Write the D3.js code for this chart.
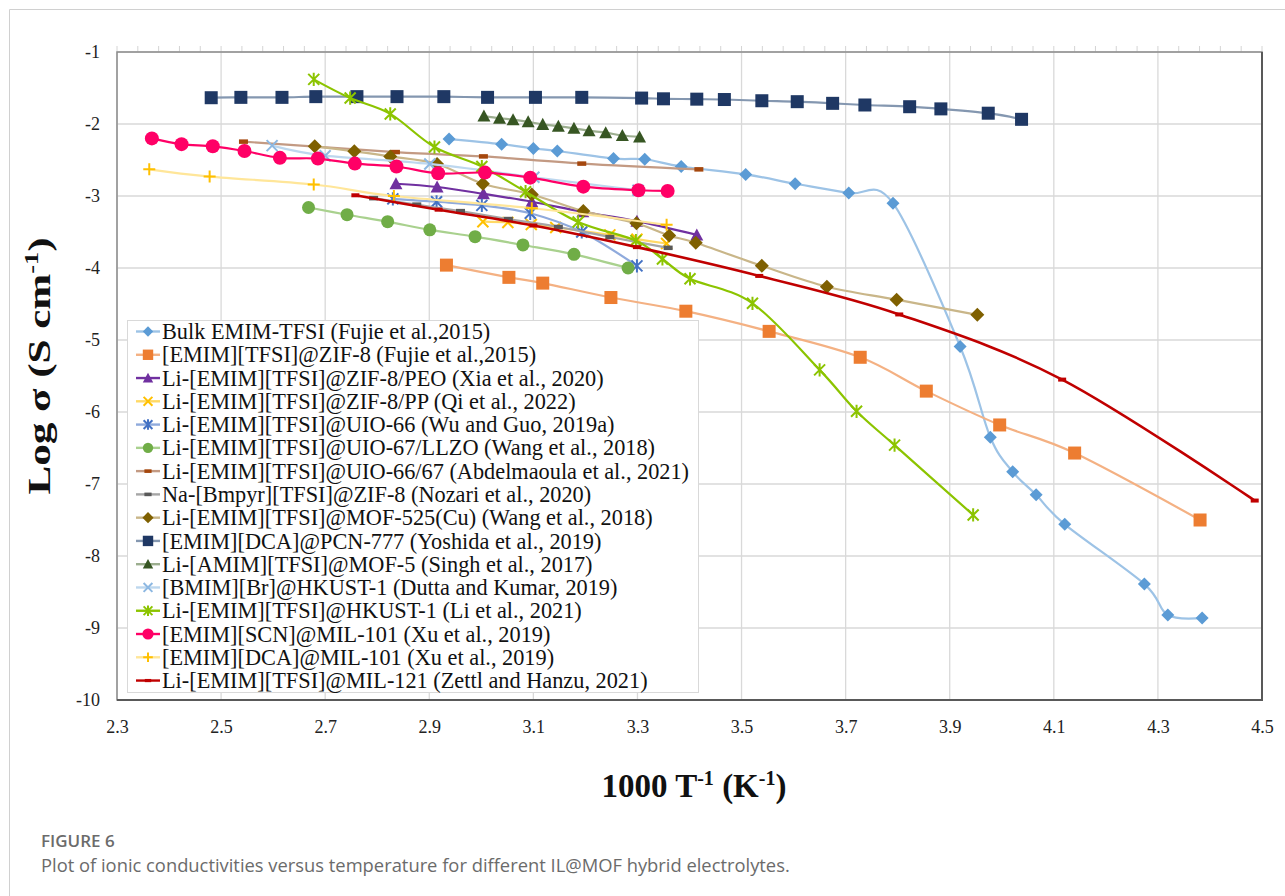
<!DOCTYPE html>
<html><head><meta charset="utf-8">
<script src="https://cdn.jsdelivr.net/npm/d3@7/dist/d3.min.js"></script>
<style>
html,body{margin:0;padding:0;background:#fff;}
svg{display:block;}
</style></head>
<body>
<script>
// ---------------- DATA ----------------
const xTicks = [2.3,2.5,2.7,2.9,3.1,3.3,3.5,3.7,3.9,4.1,4.3,4.5];
const yTicks = [-1,-2,-3,-4,-5,-6,-7,-8,-9,-10];

const seriesNames = [
  "Bulk EMIM-TFSI (Fujie et al.,2015)",
  "[EMIM][TFSI]@ZIF-8 (Fujie et al.,2015)",
  "Li-[EMIM][TFSI]@ZIF-8/PEO (Xia et al., 2020)",
  "Li-[EMIM][TFSI]@ZIF-8/PP (Qi et al., 2022)",
  "Li-[EMIM][TFSI]@UIO-66 (Wu and Guo, 2019a)",
  "Li-[EMIM][TFSI]@UIO-67/LLZO (Wang et al., 2018)",
  "Li-[EMIM][TFSI]@UIO-66/67 (Abdelmaoula et al., 2021)",
  "Na-[Bmpyr][TFSI]@ZIF-8 (Nozari et al., 2020)",
  "Li-[EMIM][TFSI]@MOF-525(Cu) (Wang et al., 2018)",
  "[EMIM][DCA]@PCN-777 (Yoshida et al., 2019)",
  "Li-[AMIM][TFSI]@MOF-5 (Singh et al., 2017)",
  "[BMIM][Br]@HKUST-1 (Dutta and Kumar, 2019)",
  "Li-[EMIM][TFSI]@HKUST-1 (Li et al., 2021)",
  "[EMIM][SCN]@MIL-101 (Xu et al., 2019)",
  "[EMIM][DCA]@MIL-101 (Xu et al., 2019)",
  "Li-[EMIM][TFSI]@MIL-121 (Zettl and Hanzu, 2021)"
];

const bulkEMIM = [[2.938,-2.21],[3.039,-2.28],[3.100,-2.34],[3.146,-2.375],[3.254,-2.48],[3.314,-2.49],[3.384,-2.59],[3.508,-2.70],[3.603,-2.83],[3.706,-2.96],[3.791,-3.10],[3.920,-5.09],[3.978,-6.35],[4.021,-6.83],[4.066,-7.15],[4.121,-7.56],[4.274,-8.39],[4.319,-8.82],[4.385,-8.86]];
const zif8 = [[2.933,-3.96],[3.053,-4.13],[3.118,-4.21],[3.249,-4.41],[3.393,-4.60],[3.553,-4.88],[3.728,-5.24],[3.855,-5.71],[3.996,-6.18],[4.140,-6.57],[4.381,-7.50]];
const zif8PEO = [[2.836,-2.83],[2.915,-2.875],[3.004,-2.97],[3.097,-3.08],[3.195,-3.22],[3.299,-3.35],[3.414,-3.54]];
const zif8PP = [[3.003,-3.357],[3.051,-3.368],[3.096,-3.396],[3.143,-3.437],[3.247,-3.54],[3.299,-3.60],[3.356,-3.66]];
const uio66 = [[2.830,-3.04],[2.914,-3.08],[3.001,-3.13],[3.094,-3.24],[3.193,-3.50],[3.299,-3.97]];
const uio67LLZO = [[2.668,-3.16],[2.742,-3.26],[2.820,-3.357],[2.901,-3.47],[2.988,-3.565],[3.080,-3.68],[3.178,-3.81],[3.282,-4.00]];
const uio6667 = [[2.543,-2.245],[2.835,-2.39],[3.004,-2.45],[3.193,-2.55],[3.418,-2.63]];
const naZIF8 = [[2.793,-3.03],[2.876,-3.12],[2.960,-3.21],[3.052,-3.32],[3.148,-3.43],[3.247,-3.57],[3.359,-3.72]];
const mof525 = [[2.680,-2.31],[2.756,-2.38],[2.825,-2.45],[2.915,-2.555],[3.003,-2.83],[3.097,-2.98],[3.196,-3.21],[3.298,-3.38],[3.361,-3.55],[3.412,-3.65],[3.539,-3.97],[3.664,-4.26],[3.798,-4.44],[3.953,-4.65]];
const pcn777 = [[2.481,-1.635],[2.538,-1.63],[2.617,-1.63],[2.682,-1.62],[2.761,-1.62],[2.838,-1.62],[2.928,-1.62],[3.012,-1.63],[3.104,-1.63],[3.193,-1.63],[3.308,-1.64],[3.350,-1.65],[3.414,-1.655],[3.467,-1.66],[3.539,-1.677],[3.607,-1.69],[3.675,-1.713],[3.737,-1.736],[3.823,-1.76],[3.883,-1.79],[3.974,-1.85],[4.038,-1.935]];
const mof5 = [[3.005,-1.89],[3.035,-1.92],[3.061,-1.94],[3.090,-1.97],[3.118,-2.005],[3.148,-2.03],[3.178,-2.06],[3.207,-2.093],[3.239,-2.12],[3.271,-2.16],[3.304,-2.18]];
const hkustBr = [[2.598,-2.30],[2.700,-2.44],[2.901,-2.555],[3.101,-2.74],[3.301,-2.92]];
const hkustLi = [[2.678,-1.38],[2.748,-1.64],[2.825,-1.86],[2.910,-2.32],[3.001,-2.59],[3.085,-2.94],[3.186,-3.36],[3.297,-3.62],[3.348,-3.875],[3.401,-4.15],[3.521,-4.49],[3.650,-5.415],[3.721,-5.99],[3.794,-6.46],[3.945,-7.43]];
const mil101SCN = [[2.367,-2.20],[2.424,-2.28],[2.484,-2.31],[2.545,-2.375],[2.613,-2.47],[2.686,-2.48],[2.757,-2.55],[2.837,-2.59],[2.917,-2.685],[3.007,-2.675],[3.094,-2.745],[3.196,-2.87],[3.302,-2.92],[3.358,-2.93]];
const mil101DCA = [[2.362,-2.63],[2.478,-2.73],[2.678,-2.84],[2.832,-3.00],[3.097,-3.17],[3.356,-3.40]];
const mil121 = [[2.758,-2.99],[2.918,-3.19],[3.100,-3.41],[3.299,-3.71],[3.534,-4.11],[3.803,-4.645],[4.116,-5.55],[4.486,-7.23]];

const seriesValues = [bulkEMIM, zif8, zif8PEO, zif8PP, uio66, uio67LLZO, uio6667, naZIF8, mof525, pcn777, mof5, hkustBr, hkustLi, mil101SCN, mil101DCA, mil121];

// ---------------- STYLE ----------------
const styles = [
  {marker:"diamond", mc:"#5B9BD5", lc:"#9DC3E6", s:6.5},
  {marker:"square",  mc:"#ED7D31", lc:"#F4B183", s:6.5},
  {marker:"triangle",mc:"#7030A0", lc:"#7030A0", s:6.5},
  {marker:"x",       mc:"#FFC000", lc:"#FFD966", s:5.5},
  {marker:"asterisk",mc:"#4472C4", lc:"#8FAADC", s:5.5},
  {marker:"circle",  mc:"#70AD47", lc:"#A9D18E", s:6.5},
  {marker:"dash",    mc:"#A5470D", lc:"#C39A83", s:4.5},
  {marker:"dash",    mc:"#595959", lc:"#A6A6A6", s:4.5},
  {marker:"diamond", mc:"#7F6000", lc:"#C9B689", s:7},
  {marker:"square",  mc:"#1F3864", lc:"#8497B0", s:6.5},
  {marker:"triangle",mc:"#375623", lc:"#9CAE8F", s:6.5},
  {marker:"x",       mc:"#8DB8E2", lc:"#BDD7EE", s:5.5},
  {marker:"asterisk",mc:"#8CC400", lc:"#8CC400", s:5.5},
  {marker:"circle",  mc:"#FF0066", lc:"#FF0066", s:7},
  {marker:"plus",    mc:"#FFC000", lc:"#FFE699", s:6},
  {marker:"dash",    mc:"#C00000", lc:"#C00000", s:4}
];

const W = 1285, H = 896;
const SERIF = "Liberation Serif";
const svg = d3.select("body").append("svg").attr("width", W).attr("height", H)
  .attr("font-family", SERIF);

// outer figure frame
svg.append("path").attr("d", `M9.5,${H} L9.5,9.5 L${W},9.5`).attr("fill","none").attr("stroke","#d0d0d0").attr("stroke-width",1);

const x = d3.scaleLinear().domain([2.3, 4.5]).range([117, 1262]);
const y = d3.scaleLinear().domain([-10, -1]).range([700, 52]);

// gridlines
const g = svg.append("g");
g.selectAll("line.vg").data(xTicks).join("line")
  .attr("x1", d => x(d)).attr("x2", d => x(d)).attr("y1", y(-1)).attr("y2", y(-10))
  .attr("stroke", "#d9d9d9").attr("stroke-width", 1.3);
g.selectAll("line.hg").data(yTicks).join("line")
  .attr("x1", x(2.3)).attr("x2", x(4.5)).attr("y1", d => y(d)).attr("y2", d => y(d))
  .attr("stroke", "#d9d9d9").attr("stroke-width", 1.3);

// faint minor ticks above top border
const minor = d3.range(0, 56).map(i => 2.3 + i * 0.04).filter(v => v <= 4.5001);
g.selectAll("line.mt").data(minor).join("line")
  .attr("x1", d => x(d)).attr("x2", d => x(d)).attr("y1", y(-1) - 6).attr("y2", y(-1))
  .attr("stroke", "#d4d4d4").attr("stroke-width", 1);

// plot frame
svg.append("rect").attr("x", x(2.3)).attr("y", y(-1)).attr("width", x(4.5) - x(2.3)).attr("height", y(-10) - y(-1))
  .attr("fill", "none").attr("stroke", "#8c8c8c").attr("stroke-width", 1.5);
svg.append("path").attr("d", `M${x(2.3)},${y(-10)} L${x(4.5)},${y(-10)} L${x(4.5)},${y(-1)}`)
  .attr("fill","none").attr("stroke","#595959").attr("stroke-width",2);

// axes (tick labels)
const xAxis = d3.axisBottom(x).tickValues(xTicks).tickFormat(d3.format(".1f")).tickSize(0).tickPadding(20);
const xa = svg.append("g").attr("transform", `translate(0,${y(-10)})`).call(xAxis);
xa.attr("font-family", SERIF).attr("font-size", 18);
xa.select(".domain").remove();
xa.selectAll("text").attr("fill", "#222");

const yAxis = d3.axisLeft(y).tickValues(yTicks).tickFormat(d3.format("d")).tickSize(0).tickPadding(17);
const ya = svg.append("g").attr("transform", `translate(${x(2.3)},0)`).call(yAxis);
ya.attr("font-family", SERIF).attr("font-size", 18);
ya.select(".domain").remove();
ya.selectAll("text").attr("fill", "#222").text(d => String(d));

// marker drawing
function drawMarker(sel, type, s, color) {
  if (type === "square") {
    sel.append("rect").attr("x", -s).attr("y", -s).attr("width", 2*s).attr("height", 2*s).attr("fill", color);
  } else if (type === "diamond") {
    sel.append("path").attr("d", `M0,${-s}L${s},0L0,${s}L${-s},0Z`).attr("fill", color);
  } else if (type === "triangle") {
    sel.append("path").attr("d", `M0,${-s}L${s*1.0},${s*0.85}L${-s*1.0},${s*0.85}Z`).attr("fill", color);
  } else if (type === "circle") {
    sel.append("circle").attr("r", s).attr("fill", color);
  } else if (type === "x") {
    sel.append("path").attr("d", `M${-s},${-s}L${s},${s}M${-s},${s}L${s},${-s}`).attr("stroke", color).attr("stroke-width", 2).attr("fill","none");
  } else if (type === "asterisk") {
    sel.append("path").attr("d", `M${-s},${-s}L${s},${s}M${-s},${s}L${s},${-s}M0,${-s*1.2}L0,${s*1.2}`).attr("stroke", color).attr("stroke-width", 2).attr("fill","none");
  } else if (type === "plus") {
    sel.append("path").attr("d", `M${-s},0L${s},0M0,${-s}L0,${s}`).attr("stroke", color).attr("stroke-width", 2).attr("fill","none");
  } else if (type === "dash") {
    sel.append("rect").attr("x", -s).attr("y", -s*0.5).attr("width", 2*s).attr("height", s).attr("fill", color);
  }
}

const line = d3.line().x(d => x(d[0])).y(d => y(d[1])).curve(d3.curveCardinal.tension(0));

const plot = svg.append("g");
seriesValues.forEach((data, i) => {
  const st = styles[i];
  const sg = plot.append("g");
  sg.append("path").datum(data).attr("d", line).attr("fill", "none")
    .attr("stroke", st.lc).attr("stroke-width", i === 15 ? 2.6 : 2.2).attr("stroke-linejoin","round");
  sg.selectAll("g.m").data(data).join("g")
    .attr("transform", d => `translate(${x(d[0])},${y(d[1])})`)
    .each(function() { drawMarker(d3.select(this), st.marker, st.s, st.mc); });
});

// legend
const lg = svg.append("g");
lg.append("rect").attr("x", 127.5).attr("y", 320.5).attr("width", 571).attr("height", 372)
  .attr("fill", "#fff").attr("stroke", "#d9d9d9").attr("stroke-width", 1);
seriesNames.forEach((name, i) => {
  const st = styles[i];
  const cy = 331.5 + i * 23.27;
  const row = lg.append("g").attr("transform", `translate(0,${cy})`);
  row.append("line").attr("x1", 136).attr("x2", 160).attr("y1", 0).attr("y2", 0)
    .attr("stroke", st.lc).attr("stroke-width", 2.4);
  const mg = row.append("g").attr("transform", "translate(148,0)");
  drawMarker(mg, st.marker, st.s * 0.8, st.mc);
  row.append("text").attr("x", 162).attr("y", 0).attr("dy", "0.34em")
    .attr("font-size", 22.3).attr("fill", "#111").text(name);
});

// axis titles
const xt = svg.append("text").attr("x", 694).attr("y", 797).attr("text-anchor", "middle")
  .attr("font-weight", "bold").attr("font-size", 33).attr("fill", "#111");
xt.append("tspan").text("1000 T");
xt.append("tspan").attr("font-size", 20).attr("dy", -12).text("-1");
xt.append("tspan").attr("dy", 12).text(" (K");
xt.append("tspan").attr("font-size", 20).attr("dy", -12).text("-1");
xt.append("tspan").attr("dy", 12).text(")");

const yt = svg.append("text").attr("transform", "translate(50,366) rotate(-90) scale(1.39,1)").attr("text-anchor", "middle")
  .attr("font-weight", "bold").attr("font-size", 31).attr("fill", "#111");
yt.append("tspan").text("Log σ (S cm");
yt.append("tspan").attr("font-size", 19).attr("dy", -12).text("-1");
yt.append("tspan").attr("dy", 12).text(")");

// caption
svg.append("text").attr("x", 41).attr("y", 847).attr("font-family", "Open Sans")
  .attr("font-size", 17).attr("font-weight", 600).attr("fill", "#6b6b6b").text("FIGURE 6");
svg.append("text").attr("x", 41).attr("y", 872).attr("font-family", "Open Sans")
  .attr("font-size", 18.35).attr("fill", "#6b6b6b")
  .text("Plot of ionic conductivities versus temperature for different IL@MOF hybrid electrolytes.");
</script>
</body></html>
